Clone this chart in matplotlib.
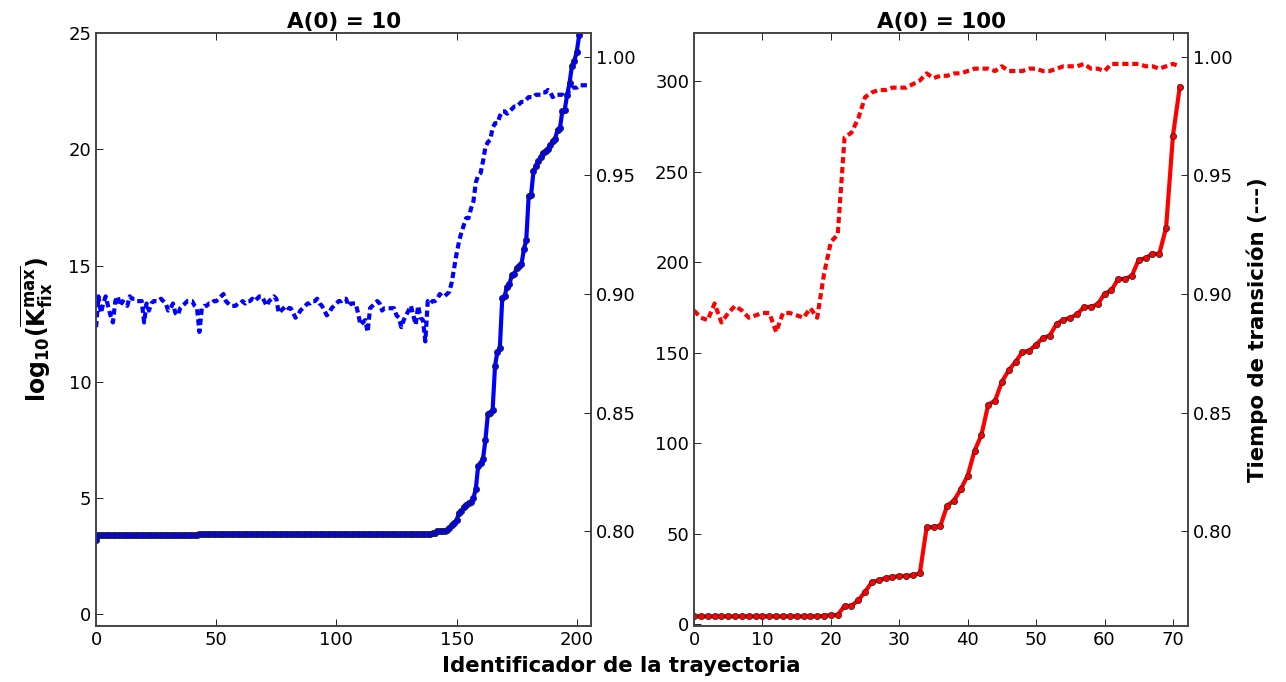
import matplotlib
matplotlib.use('Agg')
import matplotlib.pyplot as plt
import numpy as np

plt.rcParams['font.family'] = ['DejaVu Sans']
plt.rcParams['mathtext.fontset'] = 'dejavusans'
plt.rcParams['mathtext.default'] = 'bf'
plt.rcParams['xtick.direction'] = 'in'
plt.rcParams['ytick.direction'] = 'in'

# ---- A(0) = 10 : log10(Kfix max) por trayectoria (linea continua) ----
k_fix_10 = ([3.2] + [3.4] * 42 + [3.45] * 96 +
            [3.48, 3.5, 3.5, 3.6, 3.6, 3.6, 3.6, 3.62, 3.7, 3.85, 3.95,
             4.05, 4.35, 4.45, 4.6, 4.7, 4.8, 4.85, 5.0, 5.4, 6.4, 6.5,
             6.7, 7.5, 8.6, 8.65, 8.8, 10.7, 11.3, 11.45, 13.6, 13.7, 14.1,
             14.2, 14.6, 14.65, 14.9, 15.0, 15.05, 15.7, 16.1, 18.0, 18.05,
             19.05, 19.3, 19.5, 19.65, 19.85, 19.95, 20.0, 20.2, 20.35,
             20.45, 20.85, 20.9, 21.65, 21.7, 22.35, 22.85, 23.6, 23.8,
             24.2, 24.9, 26.5, 28.0, 30.0, 33.0])

# tiempo de transicion (linea punteada)
t_tr_10 = [
    0.886, 0.899, 0.892, 0.896, 0.899, 0.895, 0.891, 0.888, 0.897, 0.899,
    0.895, 0.897, 0.896, 0.895, 0.899, 0.898, 0.898, 0.897, 0.897, 0.897,
    0.888, 0.896, 0.893, 0.896, 0.897, 0.897, 0.897, 0.898, 0.897, 0.896,
    0.893, 0.894, 0.896, 0.892, 0.891, 0.894, 0.895, 0.896, 0.897, 0.897,
    0.897, 0.895, 0.894, 0.884, 0.894, 0.895, 0.895, 0.896, 0.896, 0.897,
    0.897, 0.898, 0.899, 0.900, 0.897, 0.896, 0.895, 0.895, 0.895, 0.896,
    0.896, 0.897, 0.896, 0.897, 0.897, 0.898, 0.897, 0.898, 0.899, 0.899,
    0.897, 0.895, 0.897, 0.898, 0.899, 0.898, 0.892, 0.893, 0.894, 0.895,
    0.894, 0.894, 0.892, 0.890, 0.891, 0.893, 0.894, 0.895, 0.896, 0.896,
    0.897, 0.897, 0.898, 0.896, 0.895, 0.893, 0.891, 0.892, 0.894, 0.895,
    0.896, 0.897, 0.897, 0.898, 0.898, 0.895, 0.896, 0.896, 0.896, 0.892,
    0.887, 0.888, 0.889, 0.884, 0.894, 0.895, 0.896, 0.897, 0.896, 0.893,
    0.894, 0.894, 0.894, 0.894, 0.894, 0.891, 0.890, 0.886, 0.889, 0.891,
    0.893, 0.895, 0.891, 0.887, 0.895, 0.890, 0.889, 0.880, 0.897, 0.896,
    0.897, 0.897, 0.898, 0.900, 0.899, 0.899, 0.900, 0.901, 0.905, 0.911,
    0.917, 0.922, 0.926, 0.929, 0.932, 0.932, 0.936, 0.939, 0.947, 0.950,
    0.951, 0.956, 0.962, 0.964, 0.965, 0.970, 0.972, 0.972, 0.975, 0.977,
    0.977, 0.976, 0.977, 0.978, 0.979, 0.979, 0.980, 0.981, 0.981, 0.982,
    0.983, 0.983, 0.983, 0.984, 0.984, 0.984, 0.985, 0.985, 0.986, 0.985,
    0.983, 0.984, 0.984, 0.984, 0.984, 0.983, 0.984, 0.986, 0.987, 0.987,
    0.987, 0.988, 0.988, 0.988, 0.988, 0.988]

# ---- A(0) = 100 ----
k_fix_100 = ([4.3] * 19 +
             [4.6, 5.0, 5.0, 10.1, 10.1, 13.1, 17.9, 23.2, 24.2, 25.5, 26.0,
              26.6, 26.6, 27.1, 28.0, 53.5, 53.7, 54.3, 65.5, 68.3, 74.7,
              82.1, 95.8, 104.5, 121.3, 123.5, 134.0, 140.3, 145.0, 150.4,
              151.1, 154.5, 158.2, 159.5, 166.0, 168.3, 169.3, 171.3, 175.3,
              175.3, 176.8, 182.6, 184.5, 190.8, 190.8, 192.6, 201.5, 202.2,
              204.8, 204.6, 219.2, 270.0, 297.0])

t_tr_100 = [
    0.893, 0.890, 0.889, 0.896, 0.888, 0.892, 0.895, 0.893, 0.890, 0.891,
    0.892, 0.892, 0.884, 0.892, 0.892, 0.891, 0.890, 0.894, 0.890, 0.9085,
    0.922, 0.925, 0.966, 0.968, 0.974, 0.983, 0.985, 0.986, 0.986, 0.987,
    0.987, 0.987, 0.9885, 0.990, 0.993, 0.991, 0.992, 0.992, 0.993, 0.993,
    0.994, 0.995, 0.995, 0.995, 0.994, 0.996, 0.994, 0.994, 0.994, 0.995,
    0.995, 0.994, 0.994, 0.995, 0.996, 0.996, 0.996, 0.997, 0.995, 0.995,
    0.994, 0.997, 0.997, 0.997, 0.997, 0.997, 0.996, 0.996, 0.995, 0.996,
    0.997, 0.996]

panels = [
    dict(title='A(0) = 10', k=k_fix_10, t=t_tr_10, color='#0000ff',
         xlim=(0, 206), ylim=(-0.5, 25), xticks=np.arange(0, 201, 50),
         yticks=np.arange(0, 26, 5), rect=[0.0747, 0.082, 0.385, 0.8695]),
    dict(title='A(0) = 100', k=k_fix_100, t=t_tr_100, color='#ff0000',
         xlim=(0, 72.2), ylim=(-1.1, 326.7), xticks=np.arange(0, 71, 10),
         yticks=np.arange(0, 301, 50), rect=[0.5397, 0.082, 0.3841, 0.8695]),
]

fig = plt.figure(figsize=(12.86, 6.82), dpi=100, facecolor='white')

for i, p in enumerate(panels):
    ax = fig.add_axes(p['rect'])
    ax2 = ax.twinx()

    x = np.arange(len(p['k']))
    ax.plot(x, p['k'], '-', color=p['color'], lw=3, marker='o', ms=4.5,
            mfc=p['color'], mec='#202020', mew=0.5, zorder=3)
    ax2.plot(np.arange(len(p['t'])), p['t'], color=p['color'], lw=3,
             linestyle=(0, (1.5, 0.9)))

    ax.set_xlim(*p['xlim'])
    ax.set_ylim(*p['ylim'])
    ax.set_xticks(p['xticks'])
    ax.set_yticks(p['yticks'])
    ax2.set_ylim(0.76, 1.01)
    ax2.set_yticks([0.80, 0.85, 0.90, 0.95, 1.00])
    ax2.set_yticklabels(['%.2f' % v for v in [0.80, 0.85, 0.90, 0.95, 1.00]])

    ax.tick_params(top=True, right=False, labelsize=13, length=5, width=0.6)
    ax2.tick_params(labelsize=13, length=5, width=0.6)
    for a in (ax, ax2):
        for s in a.spines.values():
            s.set_color('#444444')
            s.set_linewidth(1.2)

    ax.set_title(p['title'], fontsize=15.5, fontweight='bold', pad=4)

    if i == 0:
        ax.set_ylabel(r'$log_{10}(\overline{K^{max}_{fix}})$', fontsize=17,
                      labelpad=10)
    else:
        ax2.set_ylabel('Tiempo de transición (---)', fontsize=15.3,
                       fontweight='bold', labelpad=10)

fig.text(0.483, 0.023, 'Identificador de la trayectoria', ha='center',
         va='center', fontsize=15.3, fontweight='bold')

fig.savefig('out.png', dpi=100, facecolor='white')
